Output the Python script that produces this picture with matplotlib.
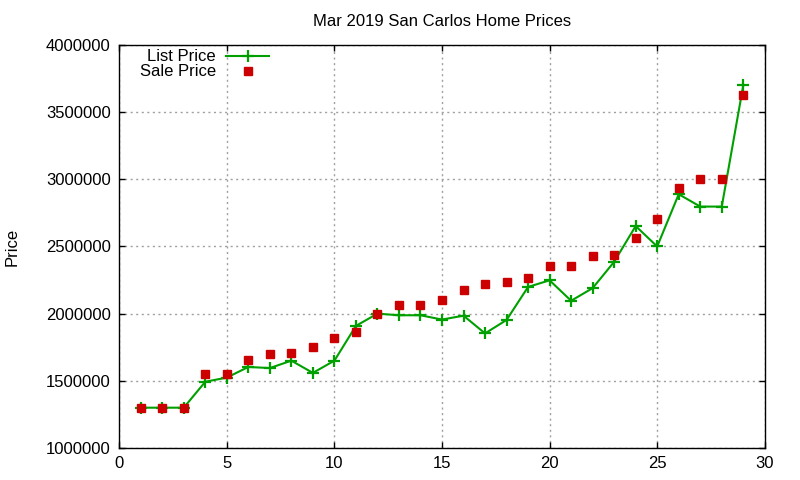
import numpy as np
import matplotlib.pyplot as plt

plt.rcParams['font.family'] = ['Liberation Sans', 'DejaVu Sans']
plt.rcParams['font.size'] = 12

# home index within the month
homes = list(range(1, 30))
list_price = [1300000, 1300000, 1300000, 1493000, 1524000, 1603000, 1595000, 1650000,
              1559000, 1650000, 1909000, 2000000, 1988000, 1988000, 1956000, 1985000,
              1853000, 1953000, 2199000, 2248000, 2096000, 2190000, 2386000, 2652000,
              2500000, 2889000, 2797000, 2797000, 3700000]
sale_price = [1295000, 1295000, 1295000, 1554000, 1554000, 1657000, 1700000, 1710000,
              1754000, 1818000, 1865000, 2000000, 2066000, 2066000, 2103000, 2176000,
              2220000, 2235000, 2265000, 2357000, 2357000, 2431000, 2438000, 2563000,
              2704000, 2933000, 3000000, 3000000, 3630000]
x_ticks = [0, 5, 10, 15, 20, 25, 30]
y_ticks = [1000000, 1500000, 2000000, 2500000, 3000000, 3500000, 4000000]

fig = plt.figure(figsize=(8, 4.8), dpi=100)
ax = fig.add_axes([0.149, 0.0667, 0.807, 0.8396])

ax.plot(homes, list_price, '-+', color='#00a000', linewidth=1.5,
        markersize=9, markeredgewidth=1.6, label='List Price', zorder=3)
ax.plot(homes, sale_price, 's', color='#cc0000', markersize=6,
        linestyle='none', label='Sale Price', zorder=4)

ax.set_xlim(0, 30)
ax.set_ylim(1000000, 4000000)
ax.set_xticks(x_ticks)
ax.set_yticks(y_ticks)
ax.set_yticklabels([str(v) for v in y_ticks])
ax.tick_params(direction='in', length=4, width=1, top=True, right=True, pad=6)
ax.grid(True, linestyle=(0, (1.5, 2.5)), color='#a0a0a0', linewidth=1)
ax.set_axisbelow(True)
for s in ax.spines.values():
    s.set_linewidth(1)

ax.set_title('Mar 2019 San Carlos Home Prices', fontsize=12, pad=14)
ax.set_ylabel('Price', labelpad=19)

ax.legend(loc='upper left', bbox_to_anchor=(0.014, 1.018), frameon=False,
          markerfirst=False, handlelength=2.6, borderaxespad=0.3,
          labelspacing=0.0, handletextpad=0.6, fontsize=12)

fig.savefig('out.png')
